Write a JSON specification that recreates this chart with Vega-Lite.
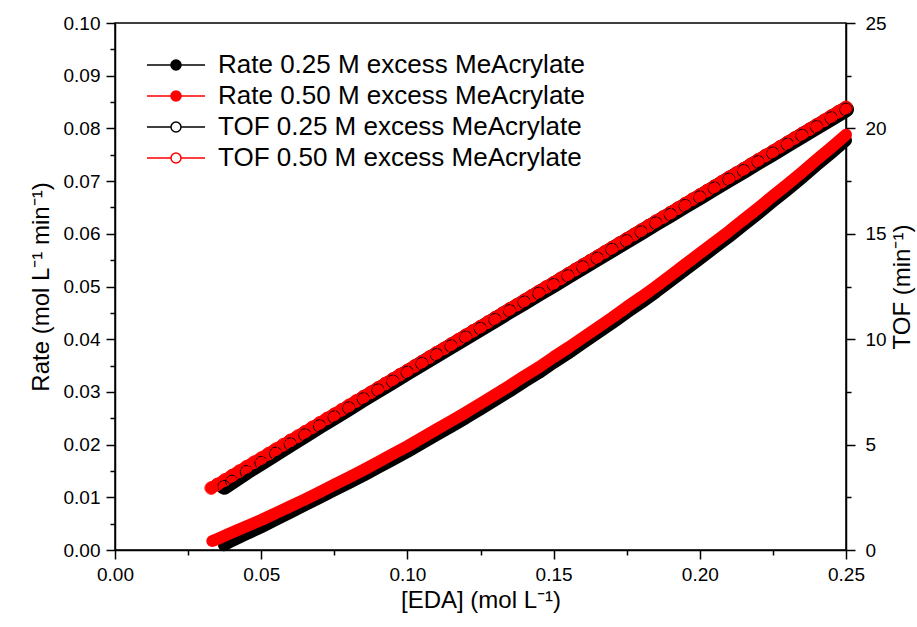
{
  "$schema": "https://vega.github.io/schema/vega-lite/v6.json",
  "width": 731,
  "height": 527,
  "autosize": {"type": "none"},
  "padding": {"left": 115, "top": 23, "right": 71, "bottom": 77},
  "config": {
    "font": "Liberation Sans",
    "view": {"stroke": "#000", "strokeWidth": 1.5},
    "axis": {
      "domainColor": "#000", "domainWidth": 1.5, "tickColor": "#000", "tickWidth": 1.5,
      "labelColor": "#000", "titleColor": "#000", "labelFont": "Liberation Sans", "titleFont": "Liberation Sans",
      "labelFontSize": 19, "titleFontSize": 24, "titleFontWeight": "normal", "grid": false,
      "labelOverlap": false, "labelFlush": false
    },
    "legend": {
      "padding": 0,
      "symbolType": "M-2.9,0H-0.5M0.5,0H2.9M-0.5,0A0.5,0.5,0,1,1,0.5,0A0.5,0.5,0,1,1,-0.5,0Z",
      "symbolSize": 400, "symbolStrokeWidth": 1.5, "labelFontSize": 26, "labelOffset": 29,
      "rowPadding": 5, "labelFont": "Liberation Sans", "labelColor": "#000", "labelLimit": 600
    }
  },
  "datasets": {
    "rate": [
      {"x": 0.0373, "y": 0.0009, "s": "Rate 0.25 M excess MeAcrylate"},
      {"x": 0.04, "y": 0.0017, "s": "Rate 0.25 M excess MeAcrylate"},
      {"x": 0.045, "y": 0.0030, "s": "Rate 0.25 M excess MeAcrylate"},
      {"x": 0.05, "y": 0.0043, "s": "Rate 0.25 M excess MeAcrylate"},
      {"x": 0.055, "y": 0.0057, "s": "Rate 0.25 M excess MeAcrylate"},
      {"x": 0.06, "y": 0.0071, "s": "Rate 0.25 M excess MeAcrylate"},
      {"x": 0.065, "y": 0.0085, "s": "Rate 0.25 M excess MeAcrylate"},
      {"x": 0.07, "y": 0.0099, "s": "Rate 0.25 M excess MeAcrylate"},
      {"x": 0.075, "y": 0.0113, "s": "Rate 0.25 M excess MeAcrylate"},
      {"x": 0.08, "y": 0.0127, "s": "Rate 0.25 M excess MeAcrylate"},
      {"x": 0.085, "y": 0.0141, "s": "Rate 0.25 M excess MeAcrylate"},
      {"x": 0.09, "y": 0.0156, "s": "Rate 0.25 M excess MeAcrylate"},
      {"x": 0.095, "y": 0.0171, "s": "Rate 0.25 M excess MeAcrylate"},
      {"x": 0.10, "y": 0.0186, "s": "Rate 0.25 M excess MeAcrylate"},
      {"x": 0.105, "y": 0.0202, "s": "Rate 0.25 M excess MeAcrylate"},
      {"x": 0.11, "y": 0.0218, "s": "Rate 0.25 M excess MeAcrylate"},
      {"x": 0.115, "y": 0.0234, "s": "Rate 0.25 M excess MeAcrylate"},
      {"x": 0.12, "y": 0.0250, "s": "Rate 0.25 M excess MeAcrylate"},
      {"x": 0.125, "y": 0.0267, "s": "Rate 0.25 M excess MeAcrylate"},
      {"x": 0.13, "y": 0.0284, "s": "Rate 0.25 M excess MeAcrylate"},
      {"x": 0.135, "y": 0.0301, "s": "Rate 0.25 M excess MeAcrylate"},
      {"x": 0.14, "y": 0.0319, "s": "Rate 0.25 M excess MeAcrylate"},
      {"x": 0.145, "y": 0.0336, "s": "Rate 0.25 M excess MeAcrylate"},
      {"x": 0.15, "y": 0.0355, "s": "Rate 0.25 M excess MeAcrylate"},
      {"x": 0.155, "y": 0.0373, "s": "Rate 0.25 M excess MeAcrylate"},
      {"x": 0.16, "y": 0.0392, "s": "Rate 0.25 M excess MeAcrylate"},
      {"x": 0.165, "y": 0.0411, "s": "Rate 0.25 M excess MeAcrylate"},
      {"x": 0.17, "y": 0.0430, "s": "Rate 0.25 M excess MeAcrylate"},
      {"x": 0.175, "y": 0.0450, "s": "Rate 0.25 M excess MeAcrylate"},
      {"x": 0.18, "y": 0.0469, "s": "Rate 0.25 M excess MeAcrylate"},
      {"x": 0.185, "y": 0.0489, "s": "Rate 0.25 M excess MeAcrylate"},
      {"x": 0.19, "y": 0.0510, "s": "Rate 0.25 M excess MeAcrylate"},
      {"x": 0.195, "y": 0.0531, "s": "Rate 0.25 M excess MeAcrylate"},
      {"x": 0.20, "y": 0.0552, "s": "Rate 0.25 M excess MeAcrylate"},
      {"x": 0.205, "y": 0.0573, "s": "Rate 0.25 M excess MeAcrylate"},
      {"x": 0.21, "y": 0.0594, "s": "Rate 0.25 M excess MeAcrylate"},
      {"x": 0.215, "y": 0.0616, "s": "Rate 0.25 M excess MeAcrylate"},
      {"x": 0.22, "y": 0.0638, "s": "Rate 0.25 M excess MeAcrylate"},
      {"x": 0.225, "y": 0.0661, "s": "Rate 0.25 M excess MeAcrylate"},
      {"x": 0.23, "y": 0.0683, "s": "Rate 0.25 M excess MeAcrylate"},
      {"x": 0.235, "y": 0.0706, "s": "Rate 0.25 M excess MeAcrylate"},
      {"x": 0.24, "y": 0.0730, "s": "Rate 0.25 M excess MeAcrylate"},
      {"x": 0.245, "y": 0.0753, "s": "Rate 0.25 M excess MeAcrylate"},
      {"x": 0.25, "y": 0.0777, "s": "Rate 0.25 M excess MeAcrylate"},
      {"x": 0.0333, "y": 0.0017, "s": "Rate 0.50 M excess MeAcrylate"},
      {"x": 0.035, "y": 0.0021, "s": "Rate 0.50 M excess MeAcrylate"},
      {"x": 0.04, "y": 0.0033, "s": "Rate 0.50 M excess MeAcrylate"},
      {"x": 0.045, "y": 0.0045, "s": "Rate 0.50 M excess MeAcrylate"},
      {"x": 0.05, "y": 0.0057, "s": "Rate 0.50 M excess MeAcrylate"},
      {"x": 0.055, "y": 0.0070, "s": "Rate 0.50 M excess MeAcrylate"},
      {"x": 0.06, "y": 0.0083, "s": "Rate 0.50 M excess MeAcrylate"},
      {"x": 0.065, "y": 0.0096, "s": "Rate 0.50 M excess MeAcrylate"},
      {"x": 0.07, "y": 0.0110, "s": "Rate 0.50 M excess MeAcrylate"},
      {"x": 0.075, "y": 0.0124, "s": "Rate 0.50 M excess MeAcrylate"},
      {"x": 0.08, "y": 0.0138, "s": "Rate 0.50 M excess MeAcrylate"},
      {"x": 0.085, "y": 0.0152, "s": "Rate 0.50 M excess MeAcrylate"},
      {"x": 0.09, "y": 0.0167, "s": "Rate 0.50 M excess MeAcrylate"},
      {"x": 0.095, "y": 0.0182, "s": "Rate 0.50 M excess MeAcrylate"},
      {"x": 0.10, "y": 0.0197, "s": "Rate 0.50 M excess MeAcrylate"},
      {"x": 0.105, "y": 0.0213, "s": "Rate 0.50 M excess MeAcrylate"},
      {"x": 0.11, "y": 0.0229, "s": "Rate 0.50 M excess MeAcrylate"},
      {"x": 0.115, "y": 0.0245, "s": "Rate 0.50 M excess MeAcrylate"},
      {"x": 0.12, "y": 0.0261, "s": "Rate 0.50 M excess MeAcrylate"},
      {"x": 0.125, "y": 0.0278, "s": "Rate 0.50 M excess MeAcrylate"},
      {"x": 0.13, "y": 0.0295, "s": "Rate 0.50 M excess MeAcrylate"},
      {"x": 0.135, "y": 0.0312, "s": "Rate 0.50 M excess MeAcrylate"},
      {"x": 0.14, "y": 0.0330, "s": "Rate 0.50 M excess MeAcrylate"},
      {"x": 0.145, "y": 0.0347, "s": "Rate 0.50 M excess MeAcrylate"},
      {"x": 0.15, "y": 0.0366, "s": "Rate 0.50 M excess MeAcrylate"},
      {"x": 0.155, "y": 0.0384, "s": "Rate 0.50 M excess MeAcrylate"},
      {"x": 0.16, "y": 0.0403, "s": "Rate 0.50 M excess MeAcrylate"},
      {"x": 0.165, "y": 0.0422, "s": "Rate 0.50 M excess MeAcrylate"},
      {"x": 0.17, "y": 0.0441, "s": "Rate 0.50 M excess MeAcrylate"},
      {"x": 0.175, "y": 0.0461, "s": "Rate 0.50 M excess MeAcrylate"},
      {"x": 0.18, "y": 0.0480, "s": "Rate 0.50 M excess MeAcrylate"},
      {"x": 0.185, "y": 0.0500, "s": "Rate 0.50 M excess MeAcrylate"},
      {"x": 0.19, "y": 0.0521, "s": "Rate 0.50 M excess MeAcrylate"},
      {"x": 0.195, "y": 0.0542, "s": "Rate 0.50 M excess MeAcrylate"},
      {"x": 0.20, "y": 0.0563, "s": "Rate 0.50 M excess MeAcrylate"},
      {"x": 0.205, "y": 0.0584, "s": "Rate 0.50 M excess MeAcrylate"},
      {"x": 0.21, "y": 0.0605, "s": "Rate 0.50 M excess MeAcrylate"},
      {"x": 0.215, "y": 0.0627, "s": "Rate 0.50 M excess MeAcrylate"},
      {"x": 0.22, "y": 0.0649, "s": "Rate 0.50 M excess MeAcrylate"},
      {"x": 0.225, "y": 0.0672, "s": "Rate 0.50 M excess MeAcrylate"},
      {"x": 0.23, "y": 0.0694, "s": "Rate 0.50 M excess MeAcrylate"},
      {"x": 0.235, "y": 0.0717, "s": "Rate 0.50 M excess MeAcrylate"},
      {"x": 0.24, "y": 0.0741, "s": "Rate 0.50 M excess MeAcrylate"},
      {"x": 0.245, "y": 0.0764, "s": "Rate 0.50 M excess MeAcrylate"},
      {"x": 0.25, "y": 0.0788, "s": "Rate 0.50 M excess MeAcrylate"}
    ],
    "tof": [
      {"x": 0.0373, "y": 3.00, "s": "TOF 0.25 M excess MeAcrylate"},
      {"x": 0.04, "y": 3.25, "s": "TOF 0.25 M excess MeAcrylate"},
      {"x": 0.045, "y": 3.71, "s": "TOF 0.25 M excess MeAcrylate"},
      {"x": 0.05, "y": 4.14, "s": "TOF 0.25 M excess MeAcrylate"},
      {"x": 0.055, "y": 4.58, "s": "TOF 0.25 M excess MeAcrylate"},
      {"x": 0.06, "y": 5.02, "s": "TOF 0.25 M excess MeAcrylate"},
      {"x": 0.065, "y": 5.45, "s": "TOF 0.25 M excess MeAcrylate"},
      {"x": 0.07, "y": 5.88, "s": "TOF 0.25 M excess MeAcrylate"},
      {"x": 0.075, "y": 6.30, "s": "TOF 0.25 M excess MeAcrylate"},
      {"x": 0.08, "y": 6.73, "s": "TOF 0.25 M excess MeAcrylate"},
      {"x": 0.085, "y": 7.16, "s": "TOF 0.25 M excess MeAcrylate"},
      {"x": 0.09, "y": 7.58, "s": "TOF 0.25 M excess MeAcrylate"},
      {"x": 0.095, "y": 8.00, "s": "TOF 0.25 M excess MeAcrylate"},
      {"x": 0.10, "y": 8.42, "s": "TOF 0.25 M excess MeAcrylate"},
      {"x": 0.105, "y": 8.84, "s": "TOF 0.25 M excess MeAcrylate"},
      {"x": 0.11, "y": 9.26, "s": "TOF 0.25 M excess MeAcrylate"},
      {"x": 0.115, "y": 9.67, "s": "TOF 0.25 M excess MeAcrylate"},
      {"x": 0.12, "y": 10.09, "s": "TOF 0.25 M excess MeAcrylate"},
      {"x": 0.125, "y": 10.50, "s": "TOF 0.25 M excess MeAcrylate"},
      {"x": 0.13, "y": 10.92, "s": "TOF 0.25 M excess MeAcrylate"},
      {"x": 0.135, "y": 11.34, "s": "TOF 0.25 M excess MeAcrylate"},
      {"x": 0.14, "y": 11.75, "s": "TOF 0.25 M excess MeAcrylate"},
      {"x": 0.145, "y": 12.17, "s": "TOF 0.25 M excess MeAcrylate"},
      {"x": 0.15, "y": 12.58, "s": "TOF 0.25 M excess MeAcrylate"},
      {"x": 0.155, "y": 13.00, "s": "TOF 0.25 M excess MeAcrylate"},
      {"x": 0.16, "y": 13.42, "s": "TOF 0.25 M excess MeAcrylate"},
      {"x": 0.165, "y": 13.83, "s": "TOF 0.25 M excess MeAcrylate"},
      {"x": 0.17, "y": 14.25, "s": "TOF 0.25 M excess MeAcrylate"},
      {"x": 0.175, "y": 14.66, "s": "TOF 0.25 M excess MeAcrylate"},
      {"x": 0.18, "y": 15.08, "s": "TOF 0.25 M excess MeAcrylate"},
      {"x": 0.185, "y": 15.50, "s": "TOF 0.25 M excess MeAcrylate"},
      {"x": 0.19, "y": 15.91, "s": "TOF 0.25 M excess MeAcrylate"},
      {"x": 0.195, "y": 16.33, "s": "TOF 0.25 M excess MeAcrylate"},
      {"x": 0.20, "y": 16.74, "s": "TOF 0.25 M excess MeAcrylate"},
      {"x": 0.205, "y": 17.16, "s": "TOF 0.25 M excess MeAcrylate"},
      {"x": 0.21, "y": 17.58, "s": "TOF 0.25 M excess MeAcrylate"},
      {"x": 0.215, "y": 17.99, "s": "TOF 0.25 M excess MeAcrylate"},
      {"x": 0.22, "y": 18.41, "s": "TOF 0.25 M excess MeAcrylate"},
      {"x": 0.225, "y": 18.82, "s": "TOF 0.25 M excess MeAcrylate"},
      {"x": 0.23, "y": 19.24, "s": "TOF 0.25 M excess MeAcrylate"},
      {"x": 0.235, "y": 19.66, "s": "TOF 0.25 M excess MeAcrylate"},
      {"x": 0.24, "y": 20.07, "s": "TOF 0.25 M excess MeAcrylate"},
      {"x": 0.245, "y": 20.49, "s": "TOF 0.25 M excess MeAcrylate"},
      {"x": 0.25, "y": 20.90, "s": "TOF 0.25 M excess MeAcrylate"},
      {"x": 0.0329, "y": 2.94, "s": "TOF 0.50 M excess MeAcrylate"},
      {"x": 0.035, "y": 3.11, "s": "TOF 0.50 M excess MeAcrylate"},
      {"x": 0.0375, "y": 3.32, "s": "TOF 0.50 M excess MeAcrylate"},
      {"x": 0.04, "y": 3.53, "s": "TOF 0.50 M excess MeAcrylate"},
      {"x": 0.0425, "y": 3.74, "s": "TOF 0.50 M excess MeAcrylate"},
      {"x": 0.045, "y": 3.95, "s": "TOF 0.50 M excess MeAcrylate"},
      {"x": 0.0475, "y": 4.16, "s": "TOF 0.50 M excess MeAcrylate"},
      {"x": 0.05, "y": 4.36, "s": "TOF 0.50 M excess MeAcrylate"},
      {"x": 0.0525, "y": 4.57, "s": "TOF 0.50 M excess MeAcrylate"},
      {"x": 0.055, "y": 4.78, "s": "TOF 0.50 M excess MeAcrylate"},
      {"x": 0.0575, "y": 4.99, "s": "TOF 0.50 M excess MeAcrylate"},
      {"x": 0.06, "y": 5.20, "s": "TOF 0.50 M excess MeAcrylate"},
      {"x": 0.0625, "y": 5.40, "s": "TOF 0.50 M excess MeAcrylate"},
      {"x": 0.065, "y": 5.61, "s": "TOF 0.50 M excess MeAcrylate"},
      {"x": 0.0675, "y": 5.82, "s": "TOF 0.50 M excess MeAcrylate"},
      {"x": 0.07, "y": 6.03, "s": "TOF 0.50 M excess MeAcrylate"},
      {"x": 0.0725, "y": 6.24, "s": "TOF 0.50 M excess MeAcrylate"},
      {"x": 0.075, "y": 6.44, "s": "TOF 0.50 M excess MeAcrylate"},
      {"x": 0.0775, "y": 6.65, "s": "TOF 0.50 M excess MeAcrylate"},
      {"x": 0.08, "y": 6.86, "s": "TOF 0.50 M excess MeAcrylate"},
      {"x": 0.0825, "y": 7.07, "s": "TOF 0.50 M excess MeAcrylate"},
      {"x": 0.085, "y": 7.28, "s": "TOF 0.50 M excess MeAcrylate"},
      {"x": 0.0875, "y": 7.48, "s": "TOF 0.50 M excess MeAcrylate"},
      {"x": 0.09, "y": 7.69, "s": "TOF 0.50 M excess MeAcrylate"},
      {"x": 0.0925, "y": 7.90, "s": "TOF 0.50 M excess MeAcrylate"},
      {"x": 0.095, "y": 8.11, "s": "TOF 0.50 M excess MeAcrylate"},
      {"x": 0.0975, "y": 8.32, "s": "TOF 0.50 M excess MeAcrylate"},
      {"x": 0.10, "y": 8.52, "s": "TOF 0.50 M excess MeAcrylate"},
      {"x": 0.1025, "y": 8.73, "s": "TOF 0.50 M excess MeAcrylate"},
      {"x": 0.105, "y": 8.94, "s": "TOF 0.50 M excess MeAcrylate"},
      {"x": 0.1075, "y": 9.15, "s": "TOF 0.50 M excess MeAcrylate"},
      {"x": 0.11, "y": 9.36, "s": "TOF 0.50 M excess MeAcrylate"},
      {"x": 0.1125, "y": 9.56, "s": "TOF 0.50 M excess MeAcrylate"},
      {"x": 0.115, "y": 9.77, "s": "TOF 0.50 M excess MeAcrylate"},
      {"x": 0.1175, "y": 9.98, "s": "TOF 0.50 M excess MeAcrylate"},
      {"x": 0.12, "y": 10.19, "s": "TOF 0.50 M excess MeAcrylate"},
      {"x": 0.1225, "y": 10.40, "s": "TOF 0.50 M excess MeAcrylate"},
      {"x": 0.125, "y": 10.60, "s": "TOF 0.50 M excess MeAcrylate"},
      {"x": 0.1275, "y": 10.81, "s": "TOF 0.50 M excess MeAcrylate"},
      {"x": 0.13, "y": 11.02, "s": "TOF 0.50 M excess MeAcrylate"},
      {"x": 0.1325, "y": 11.23, "s": "TOF 0.50 M excess MeAcrylate"},
      {"x": 0.135, "y": 11.44, "s": "TOF 0.50 M excess MeAcrylate"},
      {"x": 0.1375, "y": 11.64, "s": "TOF 0.50 M excess MeAcrylate"},
      {"x": 0.14, "y": 11.85, "s": "TOF 0.50 M excess MeAcrylate"},
      {"x": 0.1425, "y": 12.06, "s": "TOF 0.50 M excess MeAcrylate"},
      {"x": 0.145, "y": 12.27, "s": "TOF 0.50 M excess MeAcrylate"},
      {"x": 0.1475, "y": 12.48, "s": "TOF 0.50 M excess MeAcrylate"},
      {"x": 0.15, "y": 12.68, "s": "TOF 0.50 M excess MeAcrylate"},
      {"x": 0.1525, "y": 12.89, "s": "TOF 0.50 M excess MeAcrylate"},
      {"x": 0.155, "y": 13.10, "s": "TOF 0.50 M excess MeAcrylate"},
      {"x": 0.1575, "y": 13.31, "s": "TOF 0.50 M excess MeAcrylate"},
      {"x": 0.16, "y": 13.52, "s": "TOF 0.50 M excess MeAcrylate"},
      {"x": 0.1625, "y": 13.72, "s": "TOF 0.50 M excess MeAcrylate"},
      {"x": 0.165, "y": 13.93, "s": "TOF 0.50 M excess MeAcrylate"},
      {"x": 0.1675, "y": 14.14, "s": "TOF 0.50 M excess MeAcrylate"},
      {"x": 0.17, "y": 14.35, "s": "TOF 0.50 M excess MeAcrylate"},
      {"x": 0.1725, "y": 14.56, "s": "TOF 0.50 M excess MeAcrylate"},
      {"x": 0.175, "y": 14.76, "s": "TOF 0.50 M excess MeAcrylate"},
      {"x": 0.1775, "y": 14.97, "s": "TOF 0.50 M excess MeAcrylate"},
      {"x": 0.18, "y": 15.18, "s": "TOF 0.50 M excess MeAcrylate"},
      {"x": 0.1825, "y": 15.39, "s": "TOF 0.50 M excess MeAcrylate"},
      {"x": 0.185, "y": 15.60, "s": "TOF 0.50 M excess MeAcrylate"},
      {"x": 0.1875, "y": 15.80, "s": "TOF 0.50 M excess MeAcrylate"},
      {"x": 0.19, "y": 16.01, "s": "TOF 0.50 M excess MeAcrylate"},
      {"x": 0.1925, "y": 16.22, "s": "TOF 0.50 M excess MeAcrylate"},
      {"x": 0.195, "y": 16.43, "s": "TOF 0.50 M excess MeAcrylate"},
      {"x": 0.1975, "y": 16.64, "s": "TOF 0.50 M excess MeAcrylate"},
      {"x": 0.20, "y": 16.84, "s": "TOF 0.50 M excess MeAcrylate"},
      {"x": 0.2025, "y": 17.05, "s": "TOF 0.50 M excess MeAcrylate"},
      {"x": 0.205, "y": 17.26, "s": "TOF 0.50 M excess MeAcrylate"},
      {"x": 0.2075, "y": 17.47, "s": "TOF 0.50 M excess MeAcrylate"},
      {"x": 0.21, "y": 17.68, "s": "TOF 0.50 M excess MeAcrylate"},
      {"x": 0.2125, "y": 17.88, "s": "TOF 0.50 M excess MeAcrylate"},
      {"x": 0.215, "y": 18.09, "s": "TOF 0.50 M excess MeAcrylate"},
      {"x": 0.2175, "y": 18.30, "s": "TOF 0.50 M excess MeAcrylate"},
      {"x": 0.22, "y": 18.51, "s": "TOF 0.50 M excess MeAcrylate"},
      {"x": 0.2225, "y": 18.72, "s": "TOF 0.50 M excess MeAcrylate"},
      {"x": 0.225, "y": 18.92, "s": "TOF 0.50 M excess MeAcrylate"},
      {"x": 0.2275, "y": 19.13, "s": "TOF 0.50 M excess MeAcrylate"},
      {"x": 0.23, "y": 19.34, "s": "TOF 0.50 M excess MeAcrylate"},
      {"x": 0.2325, "y": 19.55, "s": "TOF 0.50 M excess MeAcrylate"},
      {"x": 0.235, "y": 19.76, "s": "TOF 0.50 M excess MeAcrylate"},
      {"x": 0.2375, "y": 19.96, "s": "TOF 0.50 M excess MeAcrylate"},
      {"x": 0.24, "y": 20.17, "s": "TOF 0.50 M excess MeAcrylate"},
      {"x": 0.2425, "y": 20.38, "s": "TOF 0.50 M excess MeAcrylate"},
      {"x": 0.245, "y": 20.59, "s": "TOF 0.50 M excess MeAcrylate"},
      {"x": 0.2475, "y": 20.80, "s": "TOF 0.50 M excess MeAcrylate"},
      {"x": 0.25, "y": 21.00, "s": "TOF 0.50 M excess MeAcrylate"}
    ]
  },
  "encoding": {
    "x": {
      "field": "x", "type": "quantitative",
      "scale": {"domain": [0, 0.25], "nice": false, "zero": false},
      "axis": {
        "title": "[EDA] (mol L⁻¹)",
        "values": [0, 0.025, 0.05, 0.075, 0.1, 0.125, 0.15, 0.175, 0.2, 0.225, 0.25],
        "labelExpr": "round(datum.value*1000) % 50 == 0 ? format(datum.value, '.2f') : ''",
        "tickSize": {"condition": {"test": "round(datum.value*1000) % 50 == 0", "value": 9}, "value": 5},
        "labelPadding": 6, "titlePadding": 4
      }
    }
  },
  "layer": [
    {
      "data": {"name": "rate"},
      "encoding": {
        "y": {
          "field": "y", "type": "quantitative",
          "scale": {"domain": [0, 0.1], "nice": false},
          "axis": {
            "orient": "left",
            "title": "Rate (mol L⁻¹ min⁻¹)",
            "values": [0, 0.005, 0.01, 0.015, 0.02, 0.025, 0.03, 0.035, 0.04, 0.045, 0.05, 0.055, 0.06, 0.065, 0.07, 0.075, 0.08, 0.085, 0.09, 0.095, 0.1],
            "labelExpr": "round(datum.value*1000) % 10 == 0 ? format(datum.value, '.2f') : ''",
            "tickSize": {"condition": {"test": "round(datum.value*1000) % 10 == 0", "value": 9}, "value": 5},
            "labelPadding": 6, "titlePadding": 10
          }
        }
      },
      "layer": [
        {
          "transform": [{"filter": "datum.s == 'Rate 0.25 M excess MeAcrylate'"}],
          "mark": {"type": "line", "strokeWidth": 12, "strokeCap": "round", "strokeJoin": "round", "color": "#000000"}
        },
        {
          "transform": [{"filter": "datum.s == 'Rate 0.50 M excess MeAcrylate'"}],
          "mark": {"type": "line", "strokeWidth": 12, "strokeCap": "round", "strokeJoin": "round", "color": "#ff0000"}
        }
      ]
    },
    {
      "data": {"name": "tof"},
      "encoding": {
        "y": {
          "field": "y", "type": "quantitative",
          "scale": {"domain": [0, 25], "nice": false},
          "axis": {
            "orient": "right",
            "title": "TOF (min⁻¹)",
            "titleAngle": 270,
            "titleBaseline": "top",
            "values": [0, 2.5, 5, 7.5, 10, 12.5, 15, 17.5, 20, 22.5, 25],
            "labelExpr": "datum.value % 5 == 0 ? format(datum.value, 'd') : ''",
            "tickSize": {"condition": {"test": "datum.value % 5 == 0", "value": 9}, "value": 5},
            "labelPadding": 10, "titlePadding": 4
          }
        }
      },
      "layer": [
        {
          "transform": [{"filter": "datum.s == 'TOF 0.25 M excess MeAcrylate'"}],
          "mark": {"type": "line", "strokeWidth": 16, "strokeCap": "round", "strokeJoin": "round", "color": "#000000"}
        },
        {
          "transform": [{"filter": "datum.s == 'TOF 0.50 M excess MeAcrylate'"}],
          "mark": {"type": "line", "strokeWidth": 12, "strokeCap": "round", "strokeJoin": "round", "color": "#ff0000"}
        },
        {
          "mark": {"type": "point", "filled": true, "size": 160, "opacity": 1, "strokeWidth": 1},
          "encoding": {
            "fill": {"field": "s", "type": "nominal",
              "legend": {"title": null, "orient": "none", "legendX": 48, "legendY": 29},
              "scale": {"domain": ["Rate 0.25 M excess MeAcrylate", "Rate 0.50 M excess MeAcrylate", "TOF 0.25 M excess MeAcrylate", "TOF 0.50 M excess MeAcrylate"], "range": ["#000000", "#ff0000", "transparent", "transparent"]}},
            "stroke": {"field": "s", "type": "nominal",
              "legend": {"title": null, "orient": "none", "legendX": 48, "legendY": 29},
              "scale": {"domain": ["Rate 0.25 M excess MeAcrylate", "Rate 0.50 M excess MeAcrylate", "TOF 0.25 M excess MeAcrylate", "TOF 0.50 M excess MeAcrylate"], "range": ["#000000", "#ff0000", "#000000", "#ff0000"]}}
          }
        }
      ]
    }
  ],
  "resolve": {"scale": {"y": "independent"}}
}
